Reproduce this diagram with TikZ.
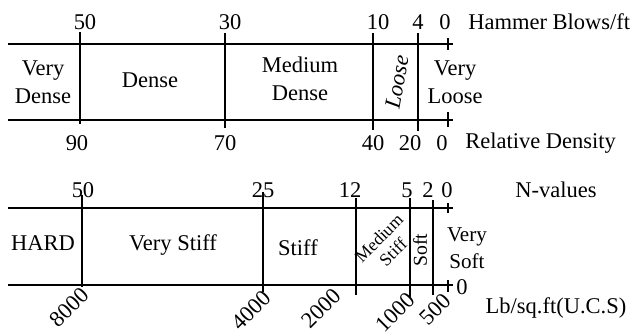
\documentclass[tikz,border=0pt]{standalone}
\usepackage{fontspec}
\setmainfont{Liberation Serif}
\begin{document}
\begin{tikzpicture}[x=0.025cm,y=0.025cm,font=\fontsize{16}{20}\selectfont]
        \useasboundingbox (0,0) rectangle (640,333);
        \tikzset{
            rail/.style={line width=1.5pt},
            bound/.style={line width=1pt},
            tag/.style={inner sep=0pt},
            slant/.style={inner sep=0pt,rotate=45,anchor=east},
            twoline/.style={inner sep=0pt,align=center}
        }

        % Hammer blows / relative density
        \begin{scope}
            \def\yt{289}
            \def\yb{213}
            \draw[rail] (8,\yt) -- (453,\yt);
            \draw[rail] (8,\yb) -- (453,\yb);
            \draw[bound] (80,301) -- (80,209);
            \draw[bound] (225,300) -- (225,205);
            \draw[bound] (373,300) -- (373,203);
            \draw[bound] (418,300) -- (418,202);
            \draw[bound] (448,295) -- (448,283);
            \draw[bound] (448,221) -- (448,206);
            \node[tag] (hb50) at (85,311) {50};
            \node[tag] (hb30) at (230,311) {30};
            \node[tag] (hb10) at (378,311) {10};
            \node[tag] (hb4) at (418,311) {4};
            \node[tag] (hb0) at (445,311) {0};
            \node[tag,anchor=west] (hbname) at (468,311) {Hammer Blows/ft};
            \node[tag] (rd90) at (77,190) {90};
            \node[tag] (rd70) at (225,190) {70};
            \node[tag] (rd40) at (373,190) {40};
            \node[tag] (rd20) at (410,190) {20};
            \node[tag] (rd0) at (442,190) {0};
            \node[tag,anchor=west] (rdname) at (465,190) {Relative Density};
            \node[twoline] (vdense) at (43,251) {Very\\Dense};
            \node[tag] (dense) at (150,253) {Dense};
            \node[twoline] (mdense) at (300,254) {Medium\\Dense};
            \node[tag,rotate=80] (loose) at (397,251) {\textit{Loose}};
            \node[twoline] (vloose) at (455,251) {Very\\Loose};
        \end{scope}

        % N-values / unconfined strength
        \begin{scope}
            \def\yt{125}
            \def\yb{48}
            \draw[rail] (8,\yt) -- (453,\yt);
            \draw[rail] (8,\yb) -- (453,\yb);
            \draw[bound] (82,138) -- (82,46);
            \draw[bound] (263,141) -- (263,41);
            \draw[bound] (356,135) -- (356,38);
            \draw[bound] (410,135) -- (410,36);
            \draw[bound] (433,133) -- (433,38);
            \draw[bound] (448,130) -- (448,120);
            \draw[bound] (448,53) -- (448,41);
            \node[tag] (nv50) at (83,143) {50};
            \node[tag] (nv25) at (263,143) {25};
            \node[tag] (nv12) at (350,143) {12};
            \node[tag] (nv5) at (407,143) {5};
            \node[tag] (nv2) at (428,143) {2};
            \node[tag] (nv0) at (447,143) {0};
            \node[tag] (nvname) at (556,143) {N-values};
            \node[tag] (hard) at (43,90) {HARD};
            \node[tag] (vstiff) at (173,88) {Very Stiff};
            \node[tag] (stiff) at (298,85) {Stiff};
            \node[twoline,rotate=45,font=\fontsize{12.5}{14}\selectfont]
                (mstiff) at (386,88) {Medium\\Stiff};
            \node[tag,rotate=90,font=\fontsize{14}{16}\selectfont]
                (soft) at (420,83) {Soft};
            \node[twoline,font=\fontsize{15}{19}\selectfont]
                (vsoft) at (467,85) {Very\\Soft};
            \node[tag] (uc0) at (462,46) {0};
            \node[slant] (uc8000) at (85,42) {8000};
            \node[slant] (uc4000) at (267,39) {4000};
            \node[slant] (uc2000) at (337,41) {2000};
            \node[slant] (uc1000) at (411,37) {1000};
            \node[slant] (uc500) at (447,36) {500};
            \node[tag] (ucname) at (556,25) {Lb/sq.ft(U.C.S)};
        \end{scope}

    \end{tikzpicture}
\end{document}
